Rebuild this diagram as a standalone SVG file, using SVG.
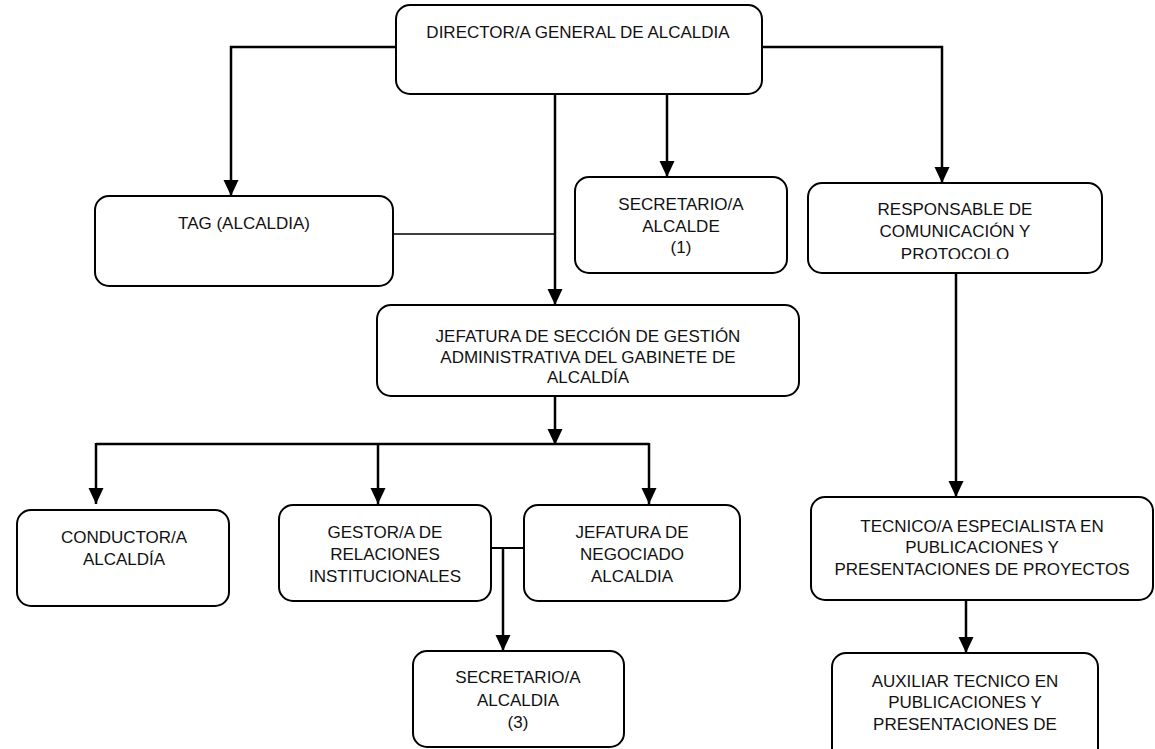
<svg xmlns="http://www.w3.org/2000/svg" width="1155" height="749" viewBox="0 0 1155 749">
<style>
.box{fill:#fff;stroke:#000;stroke-width:2}
.t{font-family:"Liberation Sans",Arial,sans-serif;font-size:17px;text-anchor:middle;fill:#111}
.c{fill:none;stroke:#000;stroke-width:2.5}
.thin{fill:none;stroke:#000;stroke-width:1.6}
</style>
<defs>
<marker id="ah" markerUnits="userSpaceOnUse" markerWidth="16" markerHeight="16" refX="16" refY="7.5" orient="auto">
<path d="M0,0 L16,7.5 L0,15 z" fill="#000"/>
</marker>
<clipPath id="clipResp"><rect x="808" y="183" width="294" height="76"/></clipPath>
</defs>
<rect width="1155" height="749" fill="#fff"/>

<g id="connectors">
<polyline class="c" points="396,47 231,47 231,196" marker-end="url(#ah)"/>
<polyline class="c" points="762,47 942,47 942,183" marker-end="url(#ah)"/>
<line class="c" x1="555" y1="94" x2="555" y2="305" marker-end="url(#ah)"/>
<line class="c" x1="667" y1="94" x2="667" y2="177" marker-end="url(#ah)"/>
<line class="thin" x1="393" y1="234" x2="555" y2="234"/>
<line class="c" x1="555" y1="396" x2="555" y2="445" marker-end="url(#ah)"/>
<line class="c" x1="96" y1="444" x2="649" y2="444"/>
<line class="c" x1="96" y1="443" x2="96" y2="504" marker-end="url(#ah)"/>
<line class="c" x1="378" y1="444" x2="378" y2="504" marker-end="url(#ah)"/>
<line class="c" x1="649" y1="443" x2="649" y2="504" marker-end="url(#ah)"/>
<line class="thin" x1="491" y1="548" x2="524" y2="548" style="stroke-width:2"/>
<line class="c" x1="503" y1="548" x2="503" y2="651" marker-end="url(#ah)"/>
<line class="c" x1="956" y1="273" x2="956" y2="497" marker-end="url(#ah)"/>
<line class="c" x1="966" y1="600" x2="966" y2="653" marker-end="url(#ah)"/>
</g>

<g id="director">
<rect class="box" x="396" y="5" width="366" height="89" rx="14"/>
<text class="t" x="578" y="38">DIRECTOR/A GENERAL DE ALCALDIA</text>
</g>

<g id="tag">
<rect class="box" x="95" y="196" width="298" height="90" rx="14"/>
<text class="t" x="244" y="229">TAG (ALCALDIA)</text>
</g>

<g id="secretario-alcalde">
<rect class="box" x="575" y="177" width="212" height="96" rx="14"/>
<text class="t" x="681" y="210">SECRETARIO/A</text>
<text class="t" x="681" y="232">ALCALDE</text>
<text class="t" x="681" y="253">(1)</text>
</g>

<g id="responsable">
<rect class="box" x="808" y="183" width="294" height="90" rx="14"/>
<g clip-path="url(#clipResp)">
<text class="t" x="955" y="215">RESPONSABLE DE</text>
<text class="t" x="955" y="237">COMUNICACIÓN Y</text>
<text class="t" x="955" y="260">PROTOCOLO</text>
</g>
</g>

<g id="jefatura-seccion">
<rect class="box" x="377" y="305" width="422" height="91" rx="14"/>
<text class="t" x="588" y="342">JEFATURA DE SECCIÓN DE GESTIÓN</text>
<text class="t" x="588" y="363">ADMINISTRATIVA DEL GABINETE DE</text>
<text class="t" x="588" y="383">ALCALDÍA</text>
</g>

<g id="conductor">
<rect class="box" x="17" y="510" width="212" height="96" rx="14"/>
<text class="t" x="124" y="543">CONDUCTOR/A</text>
<text class="t" x="124" y="565">ALCALDÍA</text>
</g>

<g id="gestor">
<rect class="box" x="279" y="505" width="212" height="96" rx="14"/>
<text class="t" x="385" y="538">GESTOR/A DE</text>
<text class="t" x="385" y="560">RELACIONES</text>
<text class="t" x="385" y="582">INSTITUCIONALES</text>
</g>

<g id="jefatura-negociado">
<rect class="box" x="524" y="505" width="216" height="96" rx="14"/>
<text class="t" x="632" y="538">JEFATURA DE</text>
<text class="t" x="632" y="560">NEGOCIADO</text>
<text class="t" x="632" y="582">ALCALDIA</text>
</g>

<g id="secretario-alcaldia">
<rect class="box" x="413" y="651" width="211" height="96" rx="14"/>
<text class="t" x="518" y="683">SECRETARIO/A</text>
<text class="t" x="518" y="706">ALCALDIA</text>
<text class="t" x="518" y="728">(3)</text>
</g>

<g id="tecnico">
<rect class="box" x="811" y="497" width="342" height="103" rx="14"/>
<text class="t" x="982" y="532">TECNICO/A ESPECIALISTA EN</text>
<text class="t" x="982" y="553">PUBLICACIONES Y</text>
<text class="t" x="982" y="575">PRESENTACIONES DE PROYECTOS</text>
</g>

<g id="auxiliar">
<rect class="box" x="832" y="653" width="266" height="110" rx="14"/>
<text class="t" x="965" y="687">AUXILIAR TECNICO EN</text>
<text class="t" x="965" y="708">PUBLICACIONES Y</text>
<text class="t" x="965" y="730">PRESENTACIONES DE</text>
</g>
</svg>
